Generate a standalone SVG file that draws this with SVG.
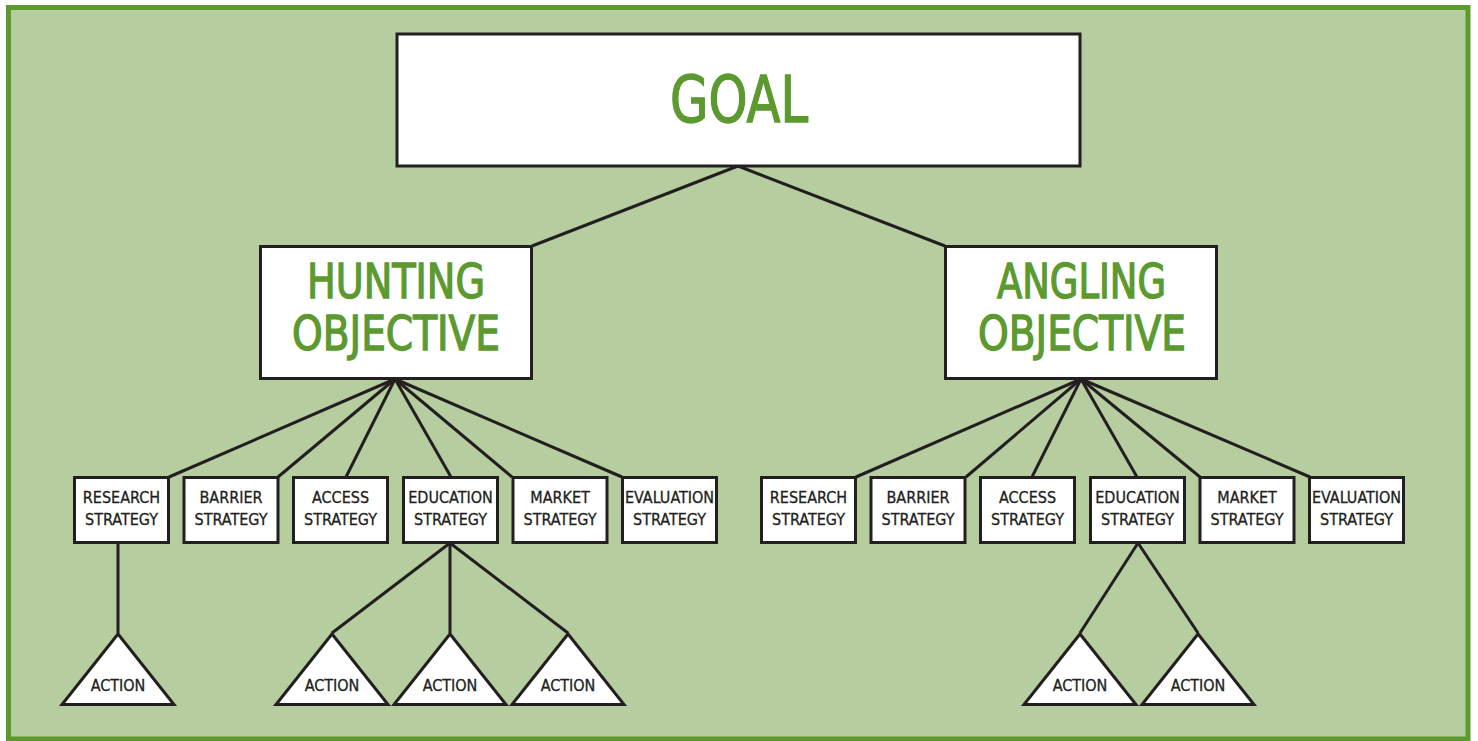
<svg xmlns="http://www.w3.org/2000/svg" width="1478" height="741" viewBox="0 0 1478 741">
<style>
.bg{fill:#b5cd9f;stroke:#5c9a30;stroke-width:5}
.box{fill:#fff;stroke:#231f20;stroke-width:3}
.tri{fill:#fff;stroke:#231f20;stroke-width:3;stroke-linejoin:miter}
.big{font-family:"DejaVu Sans Condensed","DejaVu Sans",sans-serif;fill:#5c9a30;stroke:#5c9a30;stroke-width:1.3;text-anchor:middle}
.sm{font-family:"DejaVu Sans Condensed","DejaVu Sans",sans-serif;fill:#231f20;stroke:#231f20;stroke-width:0.3;text-anchor:middle;font-size:16px}
#connectors line{stroke:#231f20;stroke-width:3}
</style>
<rect class="bg" x="8.5" y="7.5" width="1459.5" height="731.5"/>
<g id="connectors">
<line x1="738" y1="166" x2="532" y2="246"/>
<line x1="738" y1="166" x2="945" y2="246"/>
<line x1="395" y1="379" x2="169" y2="477"/>
<line x1="395" y1="379" x2="278" y2="477"/>
<line x1="395" y1="379" x2="346" y2="477"/>
<line x1="395" y1="379" x2="451" y2="477"/>
<line x1="395" y1="379" x2="512" y2="477"/>
<line x1="395" y1="379" x2="622" y2="477"/>
<line x1="1081" y1="379" x2="856" y2="477"/>
<line x1="1081" y1="379" x2="966" y2="477"/>
<line x1="1081" y1="379" x2="1032" y2="477"/>
<line x1="1081" y1="379" x2="1137" y2="477"/>
<line x1="1081" y1="379" x2="1200" y2="477"/>
<line x1="1081" y1="379" x2="1310" y2="477"/>
<line x1="118" y1="543" x2="118" y2="633"/>
<line x1="450" y1="543" x2="332" y2="633"/>
<line x1="450" y1="543" x2="450" y2="633"/>
<line x1="450" y1="543" x2="568" y2="633"/>
<line x1="1138" y1="543" x2="1080" y2="633"/>
<line x1="1138" y1="543" x2="1198" y2="633"/>
</g>
<g id="goal"><rect class="box" x="397" y="34" width="683" height="132"/><text class="big" x="739" y="122" font-size="64" textLength="138" lengthAdjust="spacingAndGlyphs">GOAL</text></g>
<g id="hunting"><rect class="box" x="260.5" y="246.5" width="271" height="132"/><text class="big" x="396" y="298" font-size="48" textLength="178" lengthAdjust="spacingAndGlyphs">HUNTING</text><text class="big" x="396" y="350" font-size="48" textLength="208" lengthAdjust="spacingAndGlyphs">OBJECTIVE</text></g>
<g id="angling"><rect class="box" x="945.5" y="246.5" width="271" height="132"/><text class="big" x="1081.5" y="298" font-size="48" textLength="169" lengthAdjust="spacingAndGlyphs">ANGLING</text><text class="big" x="1082" y="350" font-size="48" textLength="208" lengthAdjust="spacingAndGlyphs">OBJECTIVE</text></g>
<g id="h-research"><rect class="box" x="74.5" y="477.5" width="94" height="65"/><text class="sm" x="121.5" y="503">RESEARCH</text><text class="sm" x="121.5" y="525">STRATEGY</text></g>
<g id="h-barrier"><rect class="box" x="184" y="477.5" width="94" height="65"/><text class="sm" x="231" y="503">BARRIER</text><text class="sm" x="231" y="525">STRATEGY</text></g>
<g id="h-access"><rect class="box" x="293.5" y="477.5" width="94" height="65"/><text class="sm" x="340.5" y="503">ACCESS</text><text class="sm" x="340.5" y="525">STRATEGY</text></g>
<g id="h-education"><rect class="box" x="403.5" y="477.5" width="94" height="65"/><text class="sm" x="450.5" y="503">EDUCATION</text><text class="sm" x="450.5" y="525">STRATEGY</text></g>
<g id="h-market"><rect class="box" x="513" y="477.5" width="94" height="65"/><text class="sm" x="560" y="503">MARKET</text><text class="sm" x="560" y="525">STRATEGY</text></g>
<g id="h-evaluation"><rect class="box" x="622.5" y="477.5" width="94" height="65"/><text class="sm" x="669.5" y="503">EVALUATION</text><text class="sm" x="669.5" y="525">STRATEGY</text></g>
<g id="a-research"><rect class="box" x="761.5" y="477.5" width="94" height="65"/><text class="sm" x="808.5" y="503">RESEARCH</text><text class="sm" x="808.5" y="525">STRATEGY</text></g>
<g id="a-barrier"><rect class="box" x="871" y="477.5" width="94" height="65"/><text class="sm" x="918" y="503">BARRIER</text><text class="sm" x="918" y="525">STRATEGY</text></g>
<g id="a-access"><rect class="box" x="980.5" y="477.5" width="94" height="65"/><text class="sm" x="1027.5" y="503">ACCESS</text><text class="sm" x="1027.5" y="525">STRATEGY</text></g>
<g id="a-education"><rect class="box" x="1090.5" y="477.5" width="94" height="65"/><text class="sm" x="1137.5" y="503">EDUCATION</text><text class="sm" x="1137.5" y="525">STRATEGY</text></g>
<g id="a-market"><rect class="box" x="1200" y="477.5" width="94" height="65"/><text class="sm" x="1247" y="503">MARKET</text><text class="sm" x="1247" y="525">STRATEGY</text></g>
<g id="a-evaluation"><rect class="box" x="1309.5" y="477.5" width="94" height="65"/><text class="sm" x="1356.5" y="503">EVALUATION</text><text class="sm" x="1356.5" y="525">STRATEGY</text></g>
<g id="action1"><polygon class="tri" points="118,634 174,704.5 62,704.5"/><text class="sm" x="118" y="691">ACTION</text></g>
<g id="action2"><polygon class="tri" points="332,634 388,704.5 276,704.5"/><text class="sm" x="332" y="691">ACTION</text></g>
<g id="action3"><polygon class="tri" points="450,634 506,704.5 394,704.5"/><text class="sm" x="450" y="691">ACTION</text></g>
<g id="action4"><polygon class="tri" points="568,634 624,704.5 512,704.5"/><text class="sm" x="568" y="691">ACTION</text></g>
<g id="action5"><polygon class="tri" points="1080,634 1136,704.5 1024,704.5"/><text class="sm" x="1080" y="691">ACTION</text></g>
<g id="action6"><polygon class="tri" points="1198,634 1254,704.5 1142,704.5"/><text class="sm" x="1198" y="691">ACTION</text></g>
</svg>
